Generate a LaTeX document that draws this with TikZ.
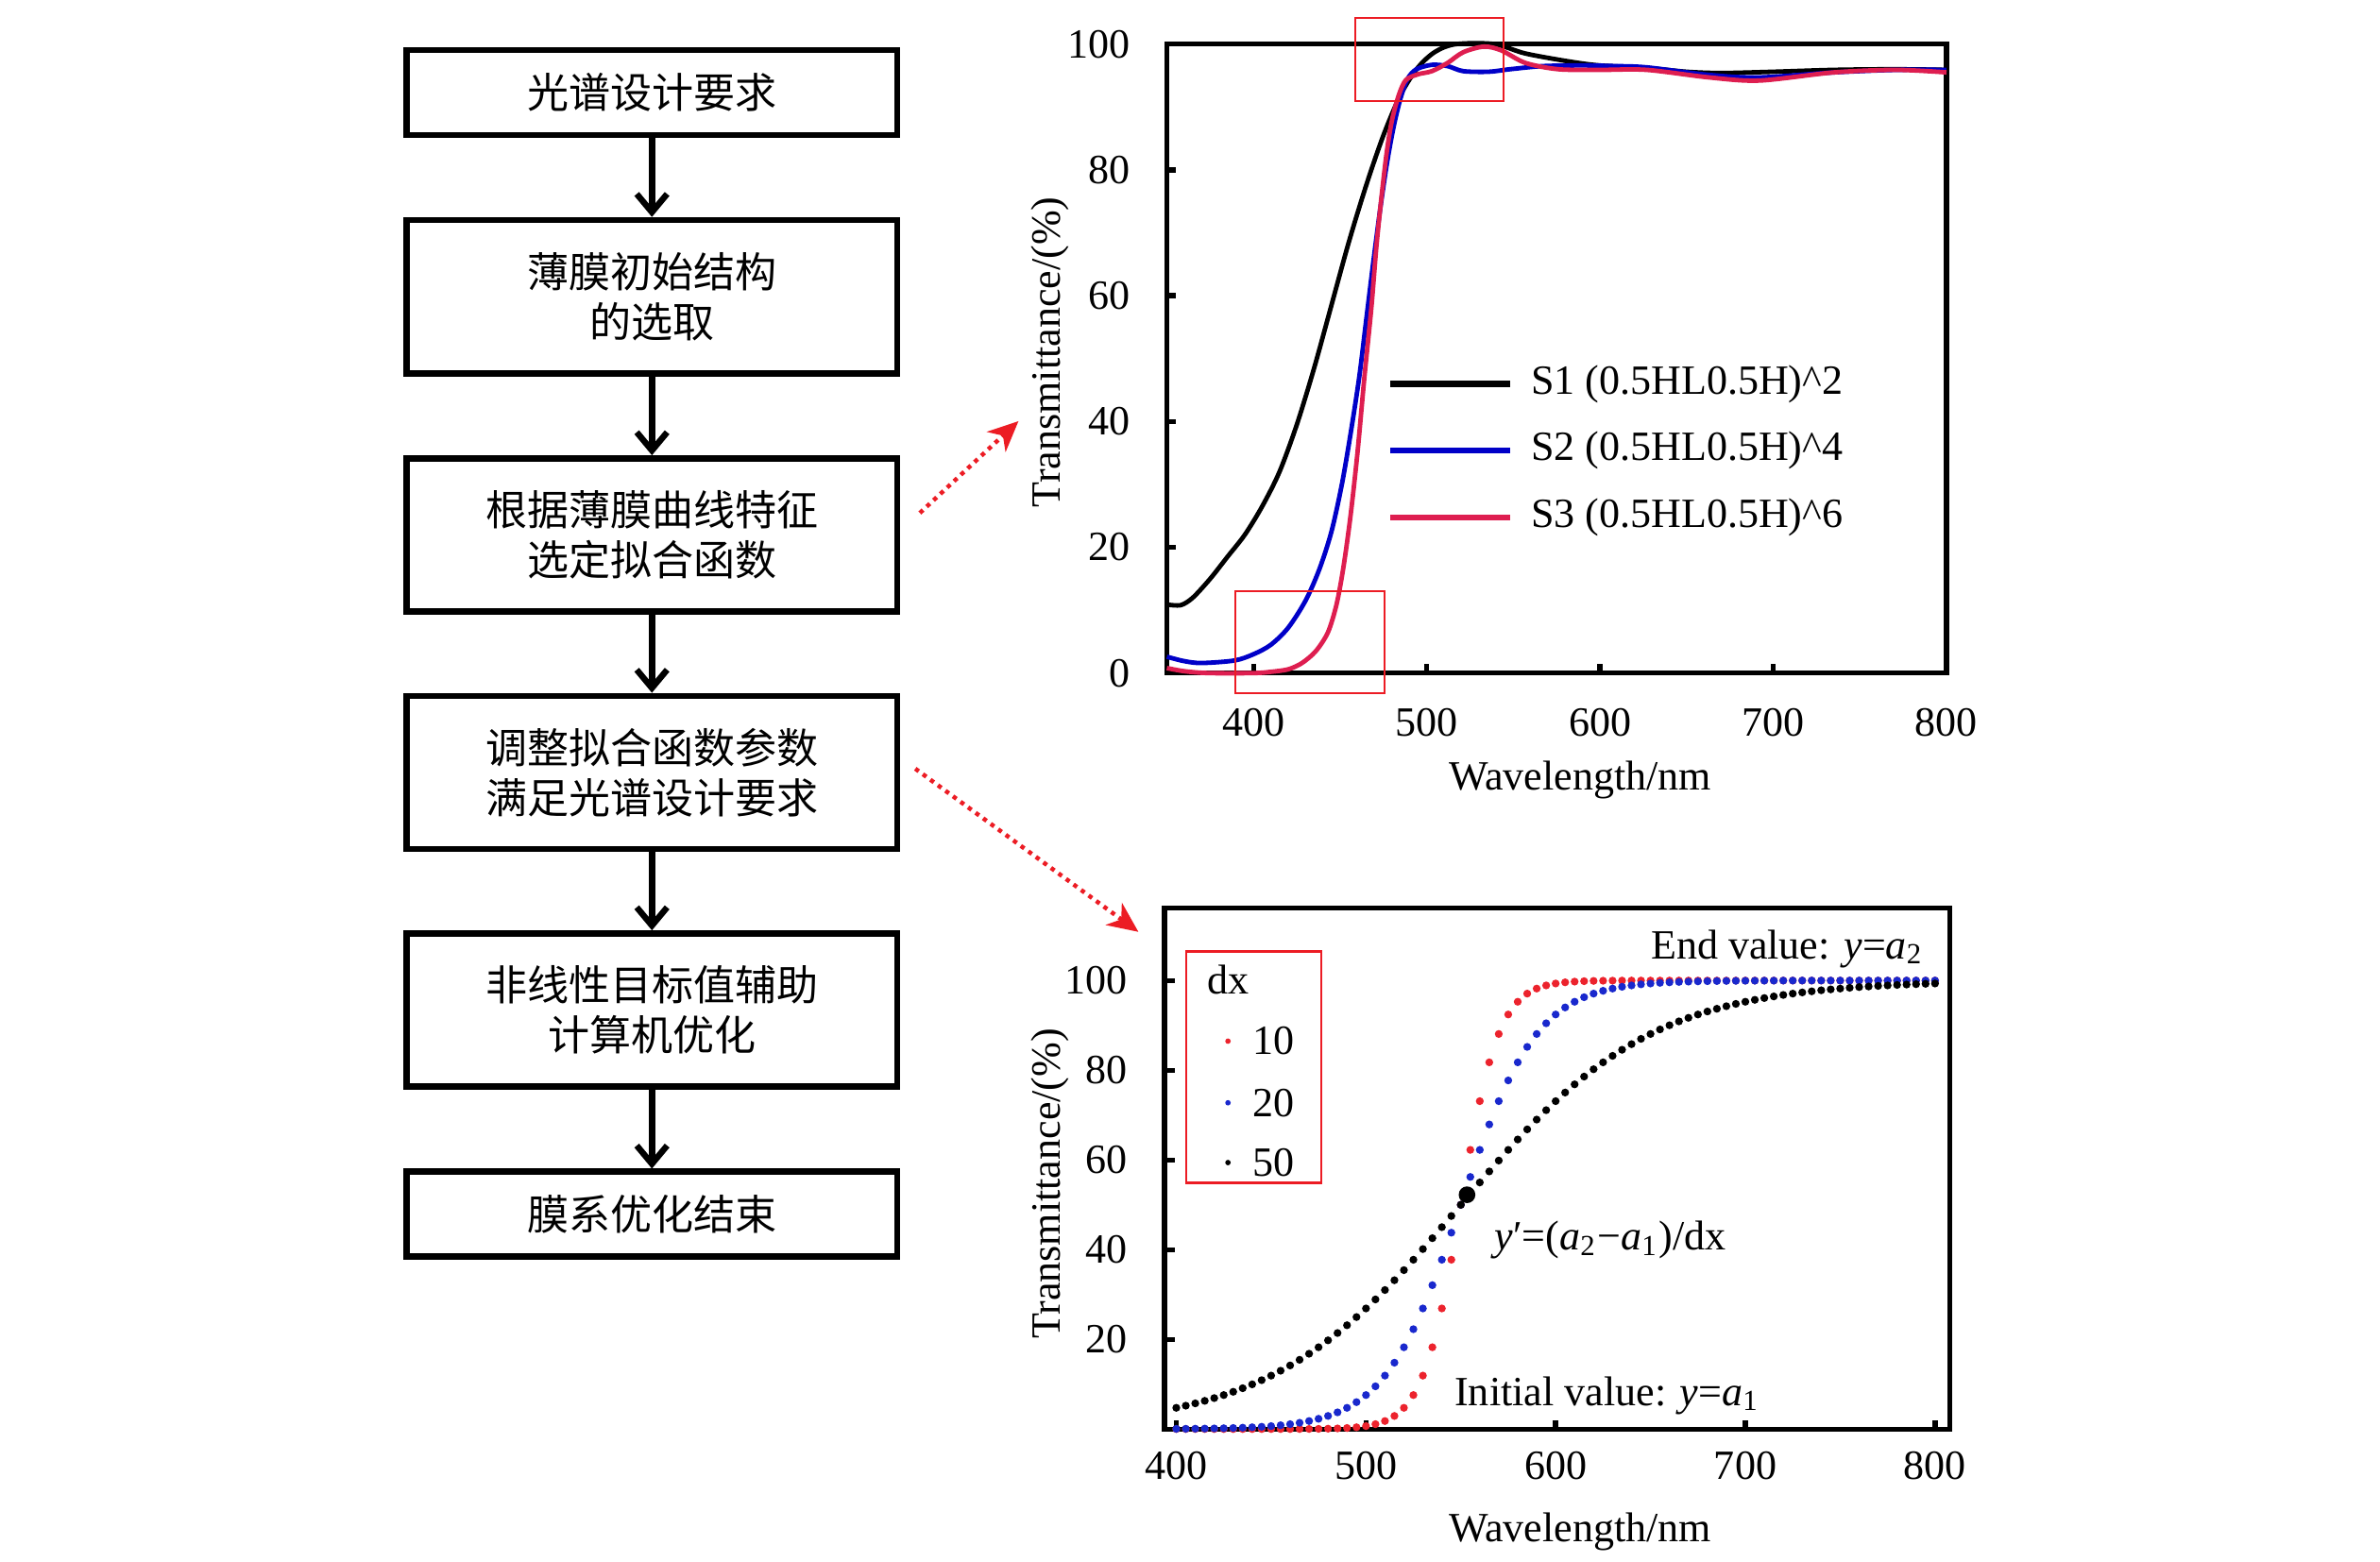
\documentclass[tikz,border=0pt]{standalone}
\usepackage{fontspec}
\setmainfont{Liberation Serif}
\newfontfamily\cjk{Noto Sans CJK SC}
\usetikzlibrary{arrows.meta}
\definecolor{curveblue}{RGB}{0,0,200}
\definecolor{curvered}{RGB}{222,30,80}
\definecolor{markred}{RGB}{236,28,36}
\definecolor{dotred}{RGB}{236,35,45}
\definecolor{dotblue}{RGB}{25,40,205}
\newcommand\flowfont{\cjk\fontsize{7.8}{9.4}\selectfont}

\begin{document}
\begin{tikzpicture}[font=\fontsize{7.8}{9.4}\selectfont,
    flowbox/.style={draw, line width=1.15pt, minimum width=3.23cm, align=center, inner sep=0pt, font=\flowfont},
    flowarrow/.style={line width=1.15pt, -{Straight Barb[length=0.12cm,width=0.2cm]}},
    linkarrow/.style={draw=markred, line width=0.8pt, dash pattern=on 0.8pt off 0.95pt, -{Stealth[length=0.2cm,width=0.18cm,inset=0.06cm,fill=markred]}},
    axisline/.style={line width=0.95pt},
    zoombox/.style={draw=markred, line width=0.35pt},
    curve/.style={line width=0.85pt}]
    \useasboundingbox (0,0) rectangle (15.68,10.29);

    % flow chart
    \node [flowbox, minimum height=0.56cm] (req) at (4.295,9.68) {光谱设计要求};
    \node [flowbox, minimum height=1.01cm] (init) at (4.295,8.335) {薄膜初始结构\\的选取};
    \node [flowbox, minimum height=1.01cm] (fit) at (4.295,6.765) {根据薄膜曲线特征\\选定拟合函数};
    \node [flowbox, minimum height=1.01cm] (adjust) at (4.295,5.20) {调整拟合函数参数\\满足光谱设计要求};
    \node [flowbox, minimum height=1.01cm] (optim) at (4.295,3.635) {非线性目标值辅助\\计算机优化};
    \node [flowbox, minimum height=0.56cm] (done) at (4.295,2.29) {膜系优化结束};
    \draw [flowarrow] (req)--(init);
    \draw [flowarrow] (init)--(fit);
    \draw [flowarrow] (fit)--(adjust);
    \draw [flowarrow] (adjust)--(optim);
    \draw [flowarrow] (optim)--(done);

    \coordinate (toplot) at (6.71,7.515);
    \coordinate (tofit) at (7.50,4.15);
    \draw [linkarrow] ([xshift=0.13cm,yshift=0.145cm]fit.east)--(toplot);
    \draw [linkarrow] ([xshift=0.1cm,yshift=0.025cm]adjust.east)--(tofit);

    % spectra of S1, S2, S3
    \begin{scope}[xshift=3.693cm, yshift=5.855cm, x=0.01142cm, y=0.04145cm]
        \draw [axisline] (350,0) rectangle (800,100);
        \foreach \t in {20,40,60,80} \draw [axisline] (350,\t)--+(0.06cm,0);
        \foreach \w in {400,500,600,700} \draw [axisline] (\w,0)--+(0,0.06cm);
        \foreach \t in {0,20,...,100} \node [anchor=east, xshift=-0.12cm] (ta\t) at (350,\t) {\t};
        \foreach \w in {400,500,...,800} \node [yshift=-0.325cm] (wa\w) at (\w,0) {\w};
        \draw [curve, black] plot [smooth] coordinates {(350,10.9) (358,10.8) (365,12) (375,15) (385,18.5) (395,22) (405,26.5) (415,32) (425,39.5) (435,48.5) (445,58.5) (455,68.5) (465,77.5) (475,85.5) (485,92) (495,96.3) (505,98.8) (517,100) (539,100) (557,98.5) (583,97.2) (600,96.6) (627,96.2) (650,95.6) (670,95.4) (700,95.6) (735,95.9) (770,96) (800,95.9)};
        \draw [curve, curveblue] plot [smooth] coordinates {(350,2.6) (360,1.9) (370,1.6) (389,2.0) (400,3.0) (410,4.5) (420,7.2) (430,11.5) (438,16.5) (445,22.5) (451,30) (456,38) (461,47) (465,56) (469,65) (473,73.5) (477,81) (481,87) (485,91.5) (489,94.5) (494,96) (503,96.7) (512,96.5) (521,95.7) (535.7,95.6) (548,96) (567,96.5) (590,96.6) (609,96.5) (627,96.3) (663,95.1) (692,94.7) (735,95.5) (771,95.9) (800,95.9)};
        \draw [curve, curvered] plot [smooth] coordinates {(350,0.8) (360,0.3) (374,0) (400,0) (410,0.2) (420,0.6) (428,1.6) (436,3.5) (443,6.5) (448,11) (452,17) (456,25) (460,35) (464,47) (468,58) (471,68) (474,76) (477,83) (480,88) (484,92) (488,94.3) (495,95.2) (503,95.7) (512,97) (521,98.7) (533,99.6) (543,99) (557,97) (576,96) (600,95.9) (627,95.9) (663,94.7) (692,94.2) (735,95.5) (771,95.9) (800,95.5)};
    \end{scope}
    \node [rotate=90] (ylabtop) at (6.92,7.97) {Transmittance/(\%)};
    \node (xlabtop) at (10.41,5.15) {Wavelength/nm};
    \draw [line width=1.1pt, black] (9.16,7.76)--(9.95,7.76) node [right] (legs1) {S1 (0.5HL0.5H)\textasciicircum 2};
    \draw [line width=1.1pt, curveblue] (9.16,7.32)--(9.95,7.32) node [right, text=black] (legs2) {S2 (0.5HL0.5H)\textasciicircum 4};
    \draw [line width=1.1pt, curvered] (9.16,6.88)--(9.95,6.88) node [right, text=black] (legs3) {S3 (0.5HL0.5H)\textasciicircum 6};
    \draw [zoombox] (8.926,10.17) rectangle (9.907,9.622);
    \draw [zoombox] (8.137,6.395) rectangle (9.123,5.72);

    % fitting function for dx = 10, 20, 50
    \begin{scope}[xshift=2.751cm, yshift=0.874cm, x=0.01249cm, y=0.02955cm]
        \draw [axisline] (393.8,0) rectangle (807.7,116.1);
        \foreach \t in {20,40,...,100} \draw [axisline] (393.8,\t)--+(0.07cm,0);
        \foreach \w in {400,500,...,800} \draw [axisline] (\w,0)--+(0,0.06cm);
        \foreach \t in {20,40,...,100} \node [anchor=east, xshift=-0.12cm] (tb\t) at (393.8,\t) {\t};
        \foreach \w in {400,500,...,800} \node [yshift=-0.244cm] (wb\w) at (\w,0) {\w};
        \foreach \wid/\dotcol in {10/dotred,20/dotblue,50/black}{
            \foreach \w in {400,405,...,800}{
                \pgfmathsetmacro\trans{100/(1+exp(-max(-9,min(9,(\w-550)/\wid))))}
                \fill [\dotcol] (\w,\trans) circle [radius=0.026cm];
            }
        }
    \end{scope}
    \node [circle, fill, inner sep=0pt, minimum size=0.11cm] (midpt) at (9.665,2.418) {};
    \node [rotate=90] (ylabbot) at (6.92,2.49) {Transmittance/(\%)};
    \node (xlabbot) at (10.41,0.20) {Wavelength/nm};
    \node [anchor=base west, inner sep=0pt] (endval) at (10.87,3.974) {End value: \textit{y}=\textit{a}\textsubscript{2}};
    \node [anchor=base west, inner sep=0pt] (slope) at (9.84,2.055) {\textit{y}′=(\textit{a}\textsubscript{2}−\textit{a}\textsubscript{1})/dx};
    \node [anchor=base west, inner sep=0pt] (initval) at (9.577,1.03) {Initial value: \textit{y}=\textit{a}\textsubscript{1}};
    \draw [draw=markred, line width=0.45pt] (7.816,4.02) rectangle (8.706,2.497);
    \node [anchor=base] (dxhead) at (8.09,3.74) {dx};
    \fill [dotred] (8.09,3.43) circle [radius=0.018cm] node [right=0.04cm, text=black] (leg10) {10};
    \fill [dotblue] (8.09,3.024) circle [radius=0.018cm] node [right=0.04cm, text=black] (leg20) {20};
    \fill [black] (8.09,2.63) circle [radius=0.018cm] node [right=0.04cm] (leg50) {50};
\end{tikzpicture}
\end{document}
